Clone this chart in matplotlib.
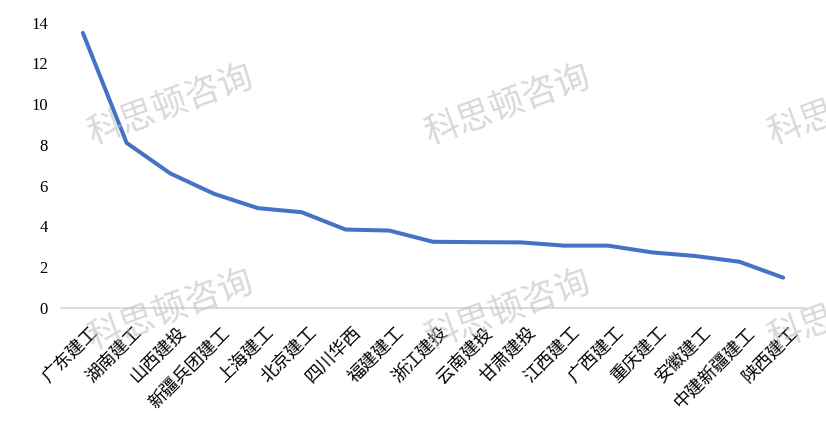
import numpy as np
import matplotlib.pyplot as plt
import matplotlib.transforms as mtransforms

plt.rcParams['font.family'] = ['Noto Sans CJK SC', 'DejaVu Sans']

# 企业名称
companies = ['广东建工', '湖南建工', '山西建投', '新疆兵团建工', '上海建工', '北京建工',
             '四川华西', '福建建工', '浙江建投', '云南建投', '甘肃建投', '江西建工',
             '广西建工', '重庆建工', '安徽建工', '中建新疆建工', '陕西建工']
values = [13.5, 8.1, 6.6, 5.6, 4.9, 4.7, 3.85, 3.8, 3.25, 3.23, 3.22, 3.06,
          3.06, 2.73, 2.55, 2.27, 1.49]
y_ticks = [0, 2, 4, 6, 8, 10, 12, 14]

W, H = 826, 432
fig = plt.figure(figsize=(W / 100, H / 100), dpi=100)
ax = fig.add_axes([61 / W, 1 - 308 / H, (805 - 61) / W, (308 - 22.7) / H])

x = np.arange(len(companies))
ax.plot(x, values, color='#4472C4', lw=2.9, solid_capstyle='round',
        solid_joinstyle='round', zorder=3)

ax.set_xlim(-0.5, len(companies) - 0.5)
ax.set_ylim(0, 14)
ax.set_yticks(y_ticks)
ax.set_yticklabels([str(v) for v in y_ticks], family='Liberation Serif', fontsize=12)
ax.set_xticks(x)
ax.set_xticklabels(companies, rotation=45, ha='right', rotation_mode='anchor',
                   fontsize=12.8)
ax.tick_params(axis='both', length=0)
ax.tick_params(axis='x', pad=11)
ax.tick_params(axis='y', pad=9.5)

# 标签略向右移
shift = mtransforms.ScaledTranslation(6 / 100, 0, fig.dpi_scale_trans)
for lab in ax.get_xticklabels():
    lab.set_transform(lab.get_transform() + shift)

for s in ['top', 'right', 'left']:
    ax.spines[s].set_visible(False)
ax.spines['bottom'].set_color('#d9d9d9')
ax.spines['bottom'].set_linewidth(1.3)

# 水印
for cx in [170, 507, 850]:
    for cy in [105, 310]:
        fig.text(cx / W, 1 - cy / H, '科思顿咨询', fontsize=25, color='#bfbfbf',
                 alpha=0.6, rotation=20, ha='center', va='center', zorder=10)

fig.savefig('out.png', dpi=100)
